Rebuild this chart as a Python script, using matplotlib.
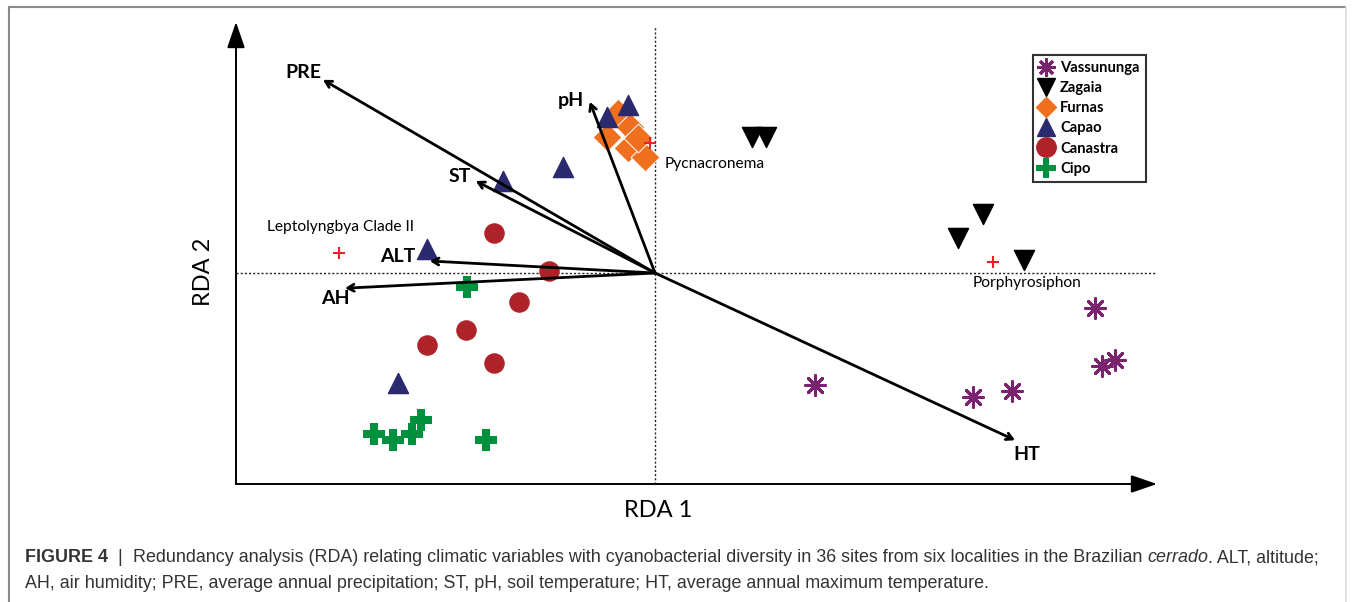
import matplotlib.pyplot as plt
from matplotlib.lines import Line2D

# site scores (RDA1, RDA2)
vass_x = [0.40, 0.795, 0.892, 1.10, 1.117, 1.150]
vass_y = [-0.28, -0.31, -0.295, -0.088, -0.232, -0.217]
zag_x = [0.243, 0.277, 0.82, 0.757, 0.922]
zag_y = [0.34, 0.34, 0.148, 0.087, 0.032]
furn_x = [-0.092, -0.120, -0.062, -0.067, -0.025, -0.043]
furn_y = [0.400, 0.340, 0.365, 0.312, 0.290, 0.338]
cap_x = [-0.12, -0.067, -0.23, -0.38, -0.57, -0.642]
cap_y = [0.39, 0.42, 0.265, 0.23, 0.06, -0.275]
can_x = [-0.402, -0.265, -0.34, -0.472, -0.57, -0.402]
can_y = [0.10, 0.005, -0.073, -0.143, -0.18, -0.225]
cipo_x = [-0.47, -0.703, -0.655, -0.607, -0.585, -0.422]
cipo_y = [-0.035, -0.403, -0.418, -0.403, -0.368, -0.418]

# species
sp_names = ["Pycnacronema", "Leptolyngbya Clade II", "Porphyrosiphon"]
sp_x = [-0.012, -0.79, 0.845]
sp_y = [0.325, 0.05, 0.027]

# environmental vectors
env_names = ["PRE", "pH", "ST", "ALT", "AH", "HT"]
env_x = [-0.83, -0.163, -0.448, -0.563, -0.775, 0.90]
env_y = [0.483, 0.428, 0.23, 0.03, -0.038, -0.418]

xmin, xmax = -1.0475, 1.255
ymin, ymax = -0.5275, 0.6275

fig = plt.figure(figsize=(13.55, 6.02), dpi=100)
ax = fig.add_axes([236/1355, 1-484/602, 921/1355, 462/602])
ax.set_xlim(xmin, xmax)
ax.set_ylim(ymin, ymax)
ax.axis("off")

# axis arrows
ax.annotate("", xy=(1, 0), xytext=(0, 0), xycoords="axes fraction",
            arrowprops=dict(arrowstyle="-|>,head_length=1.6,head_width=0.55", lw=1.4, color="black",
                            shrinkA=0, shrinkB=0), annotation_clip=False)
ax.annotate("", xy=(0, 1), xytext=(0, 0), xycoords="axes fraction",
            arrowprops=dict(arrowstyle="-|>,head_length=1.6,head_width=0.55", lw=1.4, color="black",
                            shrinkA=0, shrinkB=0), annotation_clip=False)
ax.text(0.458, -0.035, "RDA 1", transform=ax.transAxes, ha="center", va="top",
        fontsize=17, family="Lato")
ax.text(-0.035, 0.46, "RDA 2", transform=ax.transAxes, ha="center", va="center",
        rotation=90, fontsize=17, family="Lato")

# dotted zero lines
ax.plot([0, 0], [ymin, 0.615], ls=(0, (1.5, 1.5)), lw=1.0, color="#222222")
ax.plot([xmin, 1.25], [0, 0], ls=(0, (1.5, 1.5)), lw=1.0, color="#222222")

# sites
ax.scatter(furn_x, furn_y, marker="D", s=215, color="#F07020", edgecolors="white",
           linewidths=0.7, zorder=3)
ax.scatter(cap_x, cap_y, marker="^", s=210, color="#2B2A6E", zorder=3)
ax.scatter(can_x, can_y, marker="o", s=190, color="#B0222A", zorder=3)
ax.scatter(cipo_x, cipo_y, marker="P", s=230, color="#00913F", linewidths=0, zorder=3)
ax.scatter(zag_x, zag_y, marker="v", s=210, color="black", zorder=3)
ax.scatter(vass_x, vass_y, marker=(8, 2, 0), s=200, color="#7A2470", linewidths=2.2, zorder=3)

# species
ax.scatter(sp_x, sp_y, marker="+", s=70, color="#E8202A", linewidths=1.5, zorder=4)
sp_off = [(14, -21), (-72, 26), (-20, -21)]
for n, x, y, o in zip(sp_names, sp_x, sp_y, sp_off):
    ax.annotate(n, (x, y), xytext=o, textcoords="offset pixels", ha="left", va="center",
                fontsize=11.2, family="Lato", zorder=5)

# vectors
lab_off = [(-20, 7), (-19, 1), (-16, 4), (-32, 4), (-10, -10), (12, -14)]
for n, x, y, o in zip(env_names, env_x, env_y, lab_off):
    ax.annotate("", xy=(x, y), xytext=(0, 0),
                arrowprops=dict(arrowstyle="->,head_length=0.45,head_width=0.25", lw=2.0,
                                color="black", shrinkA=0, shrinkB=0), zorder=5)
    ax.annotate(n, (x, y), xytext=o, textcoords="offset pixels", ha="center", va="center",
                fontsize=14, family="Lato", fontweight="bold", zorder=6)

# legend
handles = [
    Line2D([], [], ls="none", marker=(8, 2, 0), ms=13, mew=2.2, color="#7A2470"),
    Line2D([], [], ls="none", marker="v", ms=13, color="black"),
    Line2D([], [], ls="none", marker="D", ms=10, color="#F07020"),
    Line2D([], [], ls="none", marker="^", ms=13, color="#2B2A6E"),
    Line2D([], [], ls="none", marker="o", ms=14, color="#B0222A"),
    Line2D([], [], ls="none", marker="P", ms=14, mew=0, color="#00913F"),
]
labels = ["Vassununga", "Zagaia", "Furnas", "Capao", "Canastra", "Cipo"]
leg = fig.legend(handles, labels, loc="upper left", bbox_to_anchor=(1033/1355, 1-55/602),
                 frameon=True, fancybox=False, edgecolor="black", borderaxespad=0,
                 handlelength=1.0, handletextpad=0.45, labelspacing=0.42, borderpad=0.4,
                 prop=dict(family="Lato", weight="bold", size=10.6))
leg.get_frame().set_linewidth(1.5)

# panel border
fig.add_artist(Line2D([9/1355, 1345/1355], [1-7/602, 1-7/602], color="#8a8a8a", lw=1.5))
fig.add_artist(Line2D([9/1355, 9/1355], [0, 1-7/602], color="#8a8a8a", lw=1.5))
fig.add_artist(Line2D([1346/1355, 1346/1355], [0, 1-7/602], color="#dddddd", lw=1.2))

# caption
fig.canvas.draw()
r = fig.canvas.get_renderer()
cap_col = "#333333"
cap_fs = 12.9
parts = [("FIGURE 4", "bold", "normal"), ("  |  ", "normal", "normal"),
         ("Redundancy analysis (RDA) relating climatic variables with cyanobacterial diversity in 36 sites from six localities in the Brazilian ", "normal", "normal"),
         ("cerrado", "normal", "italic"), (". ALT, altitude;", "normal", "normal")]
x = 25
for s, w, st in parts:
    t = fig.text(x/1355, 1-558/602, s, fontsize=cap_fs, family="Liberation Sans", weight=w,
                 style=st, color=cap_col, va="center", ha="left")
    x += t.get_window_extent(r).width
fig.text(25/1355, 1-584/602, "AH, air humidity; PRE, average annual precipitation; ST, pH, soil temperature; HT, average annual maximum temperature.",
         fontsize=cap_fs, family="Liberation Sans", color=cap_col, va="center", ha="left")

fig.savefig("out.png", dpi=100)
